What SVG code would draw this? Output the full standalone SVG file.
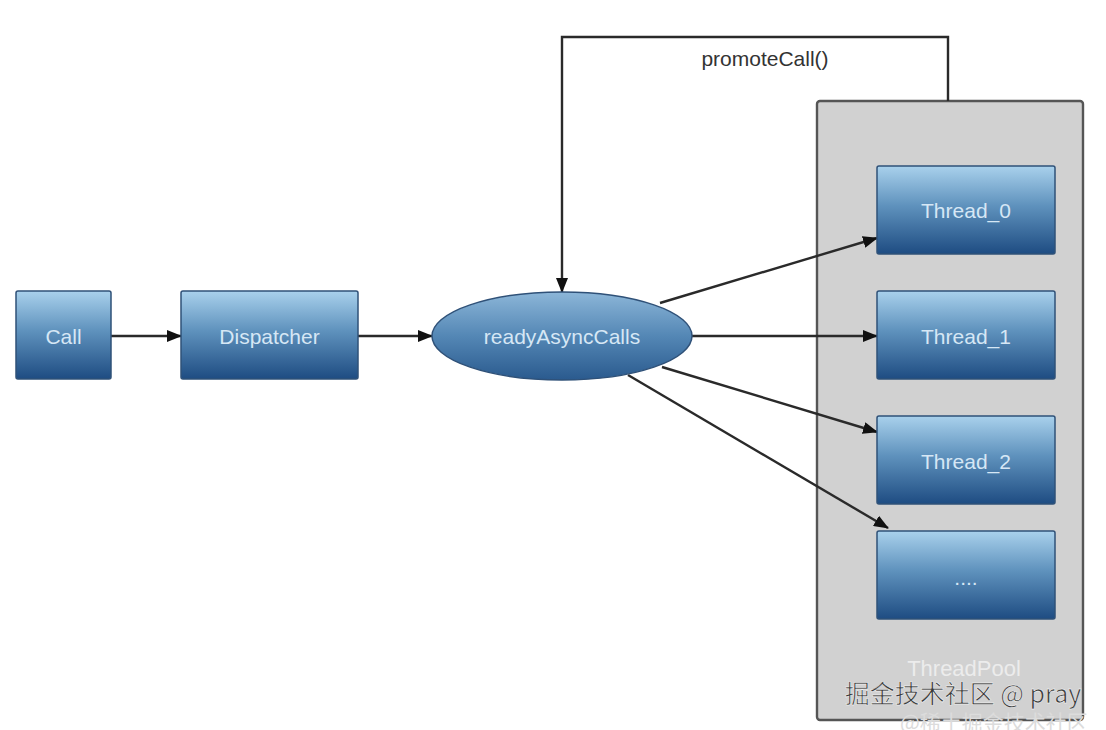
<svg xmlns="http://www.w3.org/2000/svg" width="1106" height="730" viewBox="0 0 1106 730">
<defs>
<linearGradient id="boxGrad" x1="0" y1="0" x2="0" y2="1">
<stop offset="0" stop-color="#a9d1ec"/>
<stop offset="0.45" stop-color="#5f92bd"/>
<stop offset="1" stop-color="#1e4c82"/>
</linearGradient>
<linearGradient id="ellGrad" x1="0" y1="0" x2="0" y2="1">
<stop offset="0" stop-color="#8cb6d8"/>
<stop offset="0.5" stop-color="#5487b5"/>
<stop offset="1" stop-color="#2a5a8e"/>
</linearGradient>
<marker id="arrow" markerWidth="15" markerHeight="12" refX="14" refY="6" orient="auto" markerUnits="userSpaceOnUse">
<path d="M0,0 L15,6 L0,12 Z" fill="#111"/>
</marker>
</defs>
<style>
.node rect{fill:url(#boxGrad);stroke:#2f5178;stroke-width:1.5}
.node text{font-family:"Liberation Sans",Arial,sans-serif;font-size:21px;fill:#d6e7f5;text-anchor:middle;dominant-baseline:central}
.edge{stroke:#2a2a2a;stroke-width:2.4;fill:none;marker-end:url(#arrow)}
</style>
<rect width="1106" height="730" fill="#ffffff"/>
<g id="threadpool">
<rect x="817" y="101" width="266" height="619" rx="3" fill="#d1d1d1" stroke="#555" stroke-width="2.4"/>
<text x="964" y="668" font-family="Liberation Sans,Arial,sans-serif" font-size="22" fill="#ececec" text-anchor="middle" dominant-baseline="central">ThreadPool</text>
</g>
<g id="connectors">
<polyline class="edge" points="948,101 948,37 562,37 562,292"/>
<line class="edge" x1="111" y1="336" x2="181" y2="336"/>
<line class="edge" x1="358" y1="336" x2="432" y2="336"/>
<line class="edge" x1="660" y1="303" x2="877" y2="238"/>
<line class="edge" x1="692" y1="336" x2="877" y2="336"/>
<line class="edge" x1="662" y1="367" x2="877" y2="432"/>
<line class="edge" x1="628" y1="375" x2="888" y2="528"/>
<text x="765" y="58" font-family="Liberation Sans,Arial,sans-serif" font-size="21" fill="#333" text-anchor="middle" dominant-baseline="central">promoteCall()</text>
</g>
<g id="call" class="node">
<rect x="16" y="291" width="95" height="88" rx="2"/>
<text x="63.5" y="336">Call</text>
</g>
<g id="dispatcher" class="node">
<rect x="181" y="291" width="177" height="88" rx="2"/>
<text x="269.5" y="336">Dispatcher</text>
</g>
<g id="readyAsyncCalls" class="node">
<ellipse cx="562" cy="336" rx="130" ry="44" fill="url(#ellGrad)" stroke="#2f5178" stroke-width="1.5"/>
<text x="562" y="336">readyAsyncCalls</text>
</g>
<g id="thread0" class="node">
<rect x="877" y="166" width="178" height="88" rx="2"/>
<text x="966" y="210">Thread_0</text>
</g>
<g id="thread1" class="node">
<rect x="877" y="291" width="178" height="88" rx="2"/>
<text x="966" y="336">Thread_1</text>
</g>
<g id="thread2" class="node">
<rect x="877" y="416" width="178" height="88" rx="2"/>
<text x="966" y="461">Thread_2</text>
</g>
<g id="threadMore" class="node">
<rect x="877" y="531" width="178" height="88" rx="2"/>
<text x="966" y="577">....</text>
</g>
<g id="watermark">
<text x="963" y="692" font-size="25" fill="#3a3a3a" stroke="#fff" stroke-width="0.5" text-anchor="middle" dominant-baseline="central" font-family="'Noto Sans CJK SC',sans-serif">掘金技术社区 @ pray</text>
<text x="900" y="721" font-size="21" fill="#dcdcdc" dominant-baseline="central" font-family="'Noto Sans CJK SC',sans-serif">@稀土掘金技术社区</text>
</g>
</svg>
